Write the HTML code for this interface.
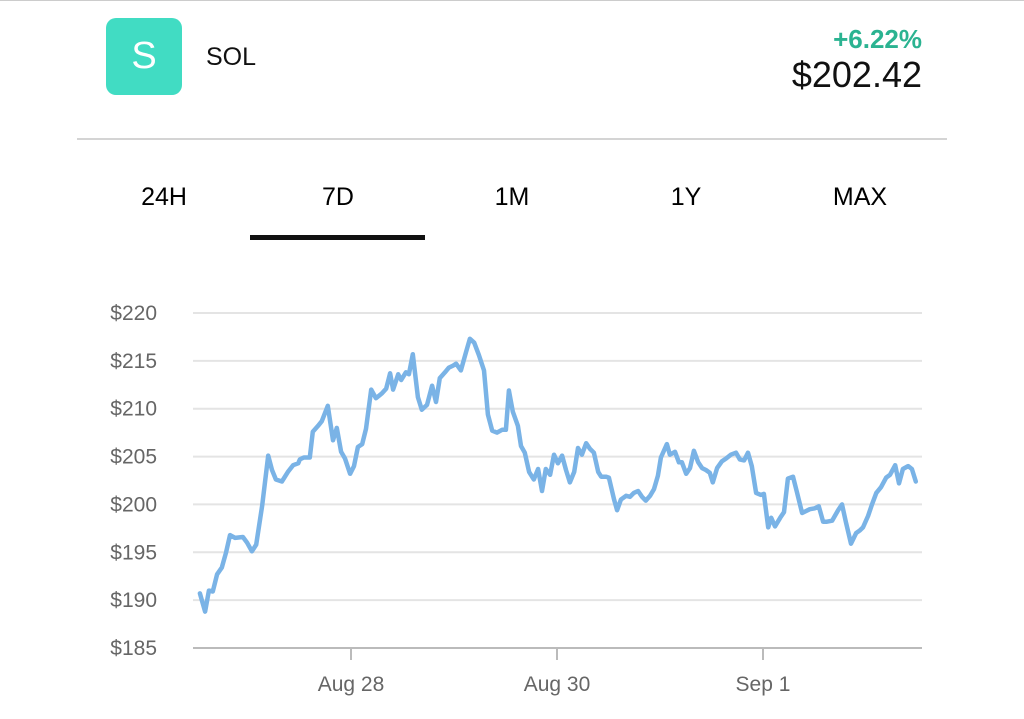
<!DOCTYPE html>
<html><head><meta charset="utf-8"><style>
body{margin:0;width:1024px;height:719px;background:#fff;font-family:"Liberation Sans",sans-serif;overflow:hidden;position:relative}
.a{position:absolute}
</style></head><body>
<div class="a" style="left:0;top:0;width:1024px;height:1px;background:#ccc"></div>
<div class="a" style="left:106px;top:18px;width:76px;height:77px;border-radius:10px;background:#41dcc3;color:#fff;font-size:38px;line-height:77px;text-align:center">S</div>
<div class="a" style="left:206px;top:43px;font-size:25px;color:#111">SOL</div>
<div class="a" style="right:102px;top:24px;font-size:26px;font-weight:bold;color:#2bb391">+6.22%</div>
<div class="a" style="right:102px;top:54px;font-size:36px;color:#111">$202.42</div>
<div class="a" style="left:77px;top:138px;width:870px;height:2px;background:#d4d4d4"></div>
<div class="a" style="left:114px;top:183px;width:100px;text-align:center;font-size:25px">24H</div>
<div class="a" style="left:288px;top:183px;width:100px;text-align:center;font-size:25px">7D</div>
<div class="a" style="left:462px;top:183px;width:100px;text-align:center;font-size:25px">1M</div>
<div class="a" style="left:636px;top:183px;width:100px;text-align:center;font-size:25px">1Y</div>
<div class="a" style="left:810px;top:183px;width:100px;text-align:center;font-size:25px">MAX</div>
<div class="a" style="left:250px;top:235px;width:175px;height:5px;background:#111"></div>
<svg class="a" style="left:0;top:0" width="1024" height="719" id="chart"></svg>
<script>
const prices=[190.7,188.8,191.0,190.9,192.7,193.4,195.0,196.8,196.5,196.6,196.0,195.1,195.8,199.9,205.1,203.6,202.6,202.4,203.4,204.1,204.3,204.7,204.9,204.9,207.6,208.2,208.7,210.3,206.7,208.0,205.5,204.8,203.2,204.0,206.0,206.3,207.9,212.0,211.1,211.6,212.1,213.7,212.0,213.6,213.0,213.8,213.6,215.7,211.2,209.9,210.4,212.4,210.7,213.2,213.8,214.3,214.5,214.7,214.0,215.9,217.3,216.9,215.6,214.0,209.4,207.7,207.5,207.8,207.8,211.9,209.7,208.2,206.1,205.4,203.4,202.6,203.7,201.4,203.7,203.1,205.2,204.3,205.1,203.6,202.3,203.4,205.9,205.2,206.4,205.8,205.4,203.4,202.9,202.9,202.8,200.5,199.4,200.5,200.9,200.8,201.2,201.4,200.8,200.4,200.9,201.6,203.0,204.9,206.3,205.2,205.5,204.4,204.4,203.2,203.8,205.6,204.4,203.8,203.6,203.3,202.3,203.8,204.5,204.8,205.2,205.4,204.7,204.6,205.4,204.0,201.2,201.0,201.1,197.6,198.6,197.7,198.6,199.2,202.7,202.9,201.3,199.1,199.3,199.5,199.6,199.8,198.2,198.2,198.3,199.4,200.0,198.2,195.9,197.0,197.3,197.6,198.8,200.0,201.2,201.8,202.8,203.1,204.1,202.2,203.7,204.0,203.7,202.4];
const hours=[-35.2,-34.0,-33.1,-32.2,-31.2,-30.1,-29.1,-28.2,-27.0,-25.2,-24.2,-23.1,-22.1,-20.7,-19.3,-18.4,-17.5,-16.1,-14.7,-13.5,-12.3,-11.9,-11.0,-9.6,-8.9,-7.7,-6.8,-5.4,-4.2,-3.3,-2.3,-1.4,-0.2,0.7,1.6,2.6,3.5,4.7,5.8,7.2,8.2,9.1,9.8,11.0,11.7,12.8,13.5,14.4,15.6,16.5,17.7,18.9,19.8,20.7,21.9,22.8,23.8,24.5,25.6,26.8,27.7,28.7,29.8,31.0,31.9,32.9,34.0,35.2,36.1,36.8,37.7,38.9,39.6,40.5,41.5,42.6,43.6,44.5,45.4,46.4,47.3,48.2,49.2,50.1,51.0,52.0,52.9,53.8,54.8,55.7,56.6,57.6,58.3,59.4,60.1,61.3,62.0,62.9,64.1,65.0,65.9,66.9,67.8,68.7,69.7,70.6,71.5,72.2,73.6,74.3,75.5,76.4,77.1,78.1,79.0,79.9,80.9,81.8,82.7,83.6,84.3,85.3,86.4,87.4,88.5,89.7,90.6,91.6,92.5,93.4,94.4,95.5,96.2,97.2,97.9,98.8,100.0,100.9,101.8,103.0,103.9,105.1,106.0,106.9,108.1,109.0,110.0,110.9,112.1,113.5,114.4,115.3,116.5,117.7,118.6,119.3,120.5,121.4,122.4,123.5,124.7,125.6,126.8,127.7,128.6,129.8,130.7,131.6];
const yTicks=[185,190,195,200,205,210,215,220];
const xTickHours=[0,48,96];
const xTickLabels=["Aug 28","Aug 30","Sep 1"];
const svg=document.getElementById('chart');const NS='http://www.w3.org/2000/svg';
const hX=h=>351+h*103/24;
const yS=v=>648-(v-185)*(335/35);
function mk(t,a){const e=document.createElementNS(NS,t);for(const k in a)e.setAttribute(k,a[k]);svg.appendChild(e);return e;}
yTicks.forEach((v,i)=>{
 const l=mk('line',{x1:193,x2:922,y1:yS(v),y2:yS(v),stroke:i==0?'#bbb':'#e4e4e4','stroke-width':2});
 
 
 const t=mk('text',{x:157,y:yS(v)+7,'text-anchor':'end','font-size':21,fill:'#666','font-family':'Liberation Sans, sans-serif'});
 t.textContent='$'+v;
 
 
});
xTickHours.forEach((h,i)=>{
 const l=mk('line',{x1:hX(h),x2:hX(h),y1:648,y2:660,stroke:'#bbb','stroke-width':2});
 
 
 const t=mk('text',{x:hX(h),y:691,'text-anchor':'middle','font-size':21,fill:'#666','font-family':'Liberation Sans, sans-serif'});
 t.textContent=xTickLabels[i];
 
 
});
const n=Math.min(prices.length,hours.length);
const pts=[];
for(let i=0;i<n;i++)pts.push(hX(hours[i]).toFixed(1)+','+yS(prices[i]).toFixed(1));
const pl=mk('polyline',{points:pts.join(' '),fill:'none',stroke:'#7ab3e6','stroke-width':4.5,'stroke-linejoin':'round','stroke-linecap':'round'});


</script>
</body></html>
